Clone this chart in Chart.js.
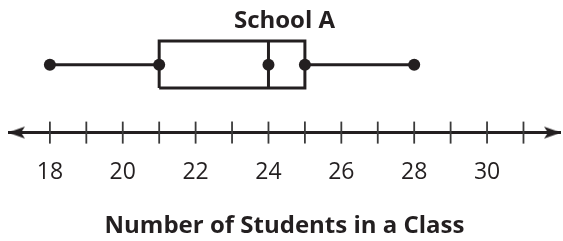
<!DOCTYPE html>
<html>
<head>
<meta charset="utf-8">
<script src="https://cdn.jsdelivr.net/npm/chart.js@4"></script>
<style>
  html, body { margin: 0; padding: 0; background: #fff; }
  #wrap { width: 563px; height: 241px; }
</style>
</head>
<body>
<div id="wrap"><canvas id="boxPlot"></canvas></div>
<script>
// five number summary for School A
var summaryNames = ['Minimum', 'Lower quartile', 'Median', 'Upper quartile', 'Maximum'];
var summaryValues = [18, 21, 24, 25, 28];

// number line
var tickValues = [18, 19, 20, 21, 22, 23, 24, 25, 26, 27, 28, 29, 30, 31];
var labelValues = [18, 20, 22, 24, 26, 28, 30];
var axisRange = [16.85, 32.03];

var chartTitle = 'School A';
var axisTitle = 'Number of Students in a Class';

// vertical placement (y scale goes 0..10, number line sits on 0)
var LINE_Y = 0;
var WHISKER_Y = 7.0;
var BOX_LOW = 4.61;
var BOX_HIGH = 9.46;

var ink = '#231f20';

// arrow head drawn on a small canvas, tip in the centre so it lands on the point
function makeArrow() {
  var c = document.createElement('canvas');
  c.width = 36;
  c.height = 14;
  var g = c.getContext('2d');
  g.fillStyle = ink;
  g.beginPath();
  g.moveTo(18, 7);
  g.lineTo(1, 1);
  g.lineTo(5, 7);
  g.lineTo(1, 13);
  g.closePath();
  g.fill();
  return c;
}
var arrow = makeArrow();

var q1 = summaryValues[1], med = summaryValues[2], q3 = summaryValues[3];

var ctx = document.getElementById('boxPlot').getContext('2d');
var chart = new Chart(ctx, {
  type: 'scatter',
  data: {
    datasets: [
      {
        label: 'points',
        data: summaryValues.map(function (v) { return { x: v, y: WHISKER_Y }; }),
        pointRadius: 6,
        pointBackgroundColor: ink,
        pointBorderWidth: 0,
        showLine: false
      },
      {
        label: 'lower whisker',
        data: [{ x: summaryValues[0], y: WHISKER_Y }, { x: q1, y: WHISKER_Y }],
        showLine: true,
        borderColor: ink,
        borderWidth: 3,
        pointRadius: 0
      },
      {
        label: 'upper whisker',
        data: [{ x: q3, y: WHISKER_Y }, { x: summaryValues[4], y: WHISKER_Y }],
        showLine: true,
        borderColor: ink,
        borderWidth: 3,
        pointRadius: 0
      },
      {
        label: 'box',
        data: [
          { x: q1, y: BOX_LOW }, { x: q3, y: BOX_LOW },
          { x: q3, y: BOX_HIGH }, { x: q1, y: BOX_HIGH },
          { x: q1, y: BOX_LOW }
        ],
        showLine: true,
        borderColor: ink,
        borderWidth: 3,
        borderJoinStyle: 'miter',
        pointRadius: 0
      },
      {
        label: 'median',
        data: [{ x: med, y: BOX_LOW }, { x: med, y: BOX_HIGH }],
        showLine: true,
        borderColor: ink,
        borderWidth: 3,
        pointRadius: 0
      },
      {
        label: 'ticks',
        data: tickValues.map(function (v) { return { x: v, y: LINE_Y }; }),
        showLine: false,
        pointStyle: 'line',
        rotation: 90,
        pointRadius: 11,
        pointBorderColor: '#3a3a3a',
        pointBorderWidth: 1.8,
        clip: false
      },
      {
        label: 'number line',
        data: [{ x: axisRange[0], y: LINE_Y }, { x: axisRange[1], y: LINE_Y }],
        showLine: true,
        borderColor: ink,
        borderWidth: 3,
        pointStyle: arrow,
        pointRadius: 5,
        rotation: [180, 0],
        clip: false
      }
    ]
  },
  options: {
    responsive: true,
    maintainAspectRatio: false,
    animation: false,
    layout: { autoPadding: false, padding: { left: 8, right: 2, top: 0, bottom: 0 } },
    plugins: {
      legend: { display: false },
      tooltip: { enabled: false },
      title: {
        display: true,
        text: chartTitle,
        color: ink,
        font: { family: 'Open Sans', size: 24, weight: 'bold' },
        padding: { top: 7, bottom: 0 }
      }
    },
    scales: {
      x: {
        type: 'linear',
        min: axisRange[0],
        max: axisRange[1],
        border: { display: false },
        grid: { display: false, drawTicks: false },
        afterBuildTicks: function (scale) {
          scale.ticks = labelValues.map(function (v) { return { value: v }; });
        },
        ticks: {
          color: ink,
          padding: 26,
          autoSkip: false,
          maxRotation: 0,
          font: { family: 'Open Sans', size: 23 }
        },
        title: {
          display: true,
          text: axisTitle,
          color: ink,
          font: { family: 'Open Sans', size: 24, weight: 'bold' },
          padding: { top: 0, bottom: 0 }
        }
      },
      y: {
        display: false,
        min: 0,
        max: 10
      }
    }
  }
});
</script>
</body>
</html>
